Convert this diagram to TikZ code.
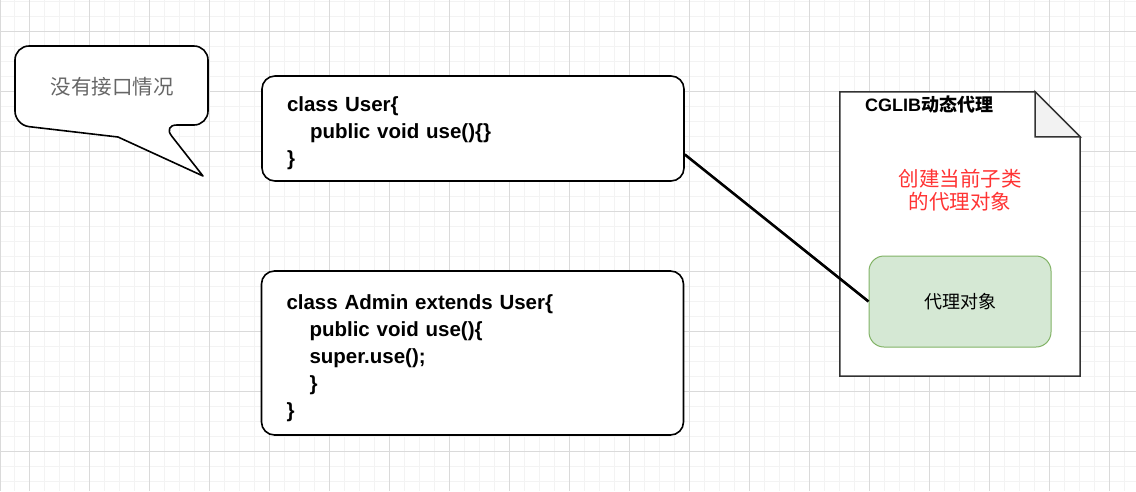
\documentclass[tikz,border=0pt]{standalone}
\usepackage{fontspec}
\setmainfont{Liberation Sans}
\newfontfamily\cjk{Noto Sans CJK SC}
\usetikzlibrary{positioning}
\definecolor{gridminor}{HTML}{F3F3F3}
\definecolor{gridmajor}{HTML}{DADADA}
\definecolor{proxyfill}{HTML}{D5E8D4}
\definecolor{proxyline}{HTML}{82B366}
\definecolor{docline}{HTML}{333333}
\definecolor{foldfill}{HTML}{F2F2F2}
\definecolor{notered}{HTML}{FF3333}

\begin{document}
\begin{tikzpicture}[x=1pt, y=-1pt,
      codebox/.style={draw, line width=1.6pt, rounded corners=13pt, fill=white,
        text width=372pt, inner xsep=25pt, inner ysep=0pt, align=left,
        font=\bfseries\fontsize{20.5}{27}\selectfont,
        execute at begin node={\rule{0pt}{25pt}}},
      bubble/.style={draw, line width=1.6pt, fill=white, line join=round},
      notetext/.style={font=\cjk\fontsize{20.5}{24}\selectfont, text=black!60},
      doctitle/.style={font=\bfseries\fontsize{18}{22}\selectfont},
      redtext/.style={font=\cjk\fontsize{20.5}{23}\selectfont, text=notered, align=center},
      proxy/.style={draw=proxyline, fill=proxyfill, line width=1pt, rounded corners=15pt,
        minimum width=182pt, minimum height=91pt, font=\cjk\fontsize{18}{22}\selectfont},
      link/.style={line width=2.6pt},
    ]
    \useasboundingbox (0,0) rectangle (1136,491);

    % Grid
    \fill[white] (0,0) rectangle (1136,491);
    \foreach \x in {14,29,...,1136} \draw[gridminor] (\x,0) -- (\x,491);
    \foreach \y in {1,16,...,491} \draw[gridminor] (0,\y) -- (1136,\y);
    \foreach \x in {29,89,...,1136} \draw[gridmajor] (\x,0) -- (\x,491);
    \foreach \y in {31,91,...,491} \draw[gridmajor] (0,\y) -- (1136,\y);
    \draw[gridmajor, line width=2pt] (0,0) -- (0,491);

    % Speech bubble
    \draw[bubble] (15,90) [rounded corners=14pt] -- (15,46) -- (208,46) -- (208,125)
      -- (163,125) [sharp corners] -- (203,176) -- (118,137)
      [rounded corners=14pt] -- (15,125) -- cycle;
    \node[notetext] (note) at (112,87) {没有接口情况};

    % Classes
    \node[codebox, minimum height=105pt] (user) at (473,128.5)
      {class User\{\\\hspace*{23pt}public void use()\{\}\\\}};
    \node[codebox, minimum height=164pt] (admin) at (472.5,353)
      {class Admin extends User\{\\\hspace*{23pt}public void use()\{\\\hspace*{23pt}super.use();\\\hspace*{23pt}\}\\\}};

    % CGLIB document
    \node[minimum width=240pt, minimum height=284pt, inner sep=0pt] (doc) at (960,234) {};
    \draw[docline, line width=1.5pt, fill=white, line join=miter]
      (doc.north west) -- ([xshift=-45pt]doc.north east) -- ([yshift=-45pt]doc.north east)
      -- (doc.south east) -- (doc.south west) -- cycle;
    \draw[docline, line width=1.5pt, fill=foldfill]
      ([xshift=-45pt]doc.north east) -- ([xshift=-45pt,yshift=-45pt]doc.north east)
      -- ([yshift=-45pt]doc.north east) -- cycle;
    \node[doctitle] (title) at (929,105) {CGLIB{\cjk 动态代理}};
    \node[redtext] (idea) at (960,190.5) {创建当前子类\\的代理对象};
    \node[proxy] (proxy) at (960,301.5) {代理对象};

    \draw[link] (user.-7.2) -- (proxy.west);
  \end{tikzpicture}
\end{document}
